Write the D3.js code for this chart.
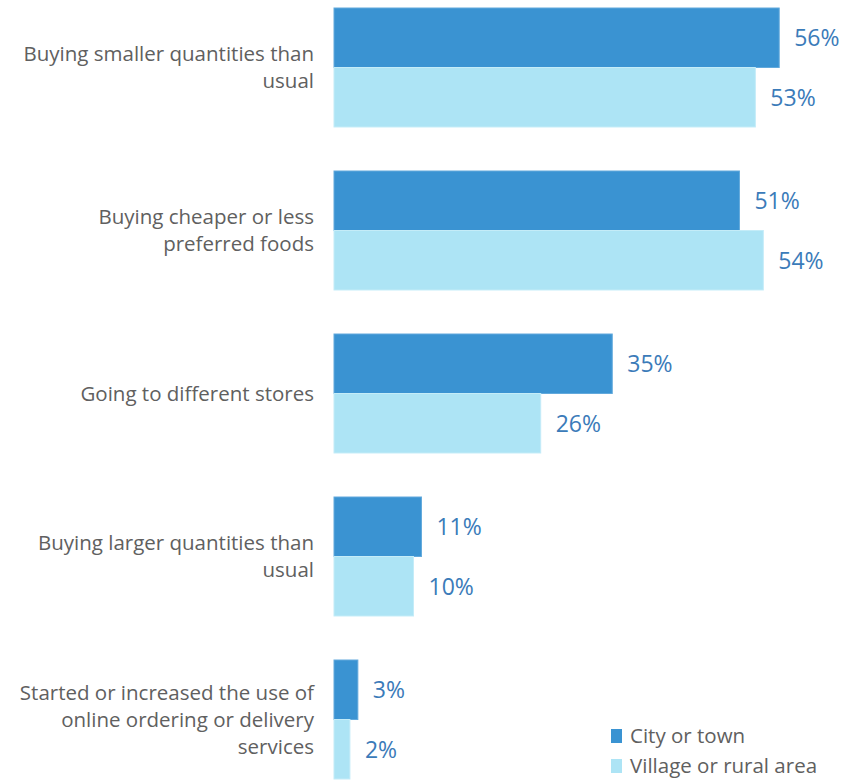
<!DOCTYPE html>
<html>
<head>
<meta charset="utf-8">
<script src="https://cdn.jsdelivr.net/npm/d3@7"></script>
<style>
  body { margin: 0; background: #ffffff; }
  svg { display: block; font-family: "Open Sans", Lato, sans-serif; }
</style>
</head>
<body>
<svg id="chart" width="860" height="780"></svg>
<script>
// Chart data
const categories = [
    ['Buying smaller quantities than', 'usual'],
    ['Buying cheaper or less', 'preferred foods'],
    ['Going to different stores'],
    ['Buying larger quantities than', 'usual'],
    ['Started or increased the use of', 'online ordering or delivery', 'services']
];
const seriesNames = ['City or town', 'Village or rural area'];
const cityValues = [56, 51, 35, 11, 3];
const villageValues = [53, 54, 26, 10, 2];

const colors = { 'City or town': '#3a93d2', 'Village or rural area': '#ade4f5' };
const borders = { 'City or town': '#62a9dc', 'Village or rural area': '#c4ecf8' };

const svg = d3.select('#chart');
const keys = categories.map((c, i) => i);

// Scales
const y = d3.scaleBand()
    .domain(keys)
    .range([8, 779])
    .paddingInner(0.27)
    .paddingOuter(0);

const ySub = d3.scaleBand()
    .domain(seriesNames)
    .range([0, y.bandwidth()]);

const x = d3.scaleLinear()
    .domain([0, 100])
    .range([334, 334 + 795]);

const rows = keys.map(i => ({
    i: i,
    label: categories[i],
    values: [
        { name: seriesNames[0], v: cityValues[i] },
        { name: seriesNames[1], v: villageValues[i] }
    ]
}));

const group = svg.append('g').attr('class', 'groups')
    .selectAll('g')
    .data(rows)
    .join('g')
    .attr('transform', d => `translate(0,${y(d.i)})`);

// Bars
group.selectAll('rect')
    .data(d => d.values)
    .join('rect')
    .attr('x', x(0))
    .attr('y', d => ySub(d.name))
    .attr('width', d => x(d.v) - x(0))
    .attr('height', ySub.bandwidth())
    .attr('fill', d => colors[d.name])
    .attr('stroke', d => borders[d.name])
    .attr('stroke-width', 1);

// Value labels
group.selectAll('text.value')
    .data(d => d.values)
    .join('text')
    .attr('class', 'value')
    .attr('x', d => x(d.v) + 15)
    .attr('y', d => ySub(d.name) + ySub.bandwidth() / 2)
    .attr('dy', '0.36em')
    .attr('font-size', '23px')
    .attr('fill', '#3b7bb9')
    .text(d => d.v + '%');

// Category labels
const lineH = 27;
group.append('text')
    .attr('class', 'cat')
    .attr('text-anchor', 'end')
    .attr('font-size', '20.5px')
    .attr('fill', '#606060')
    .each(function(d) {
        const t = d3.select(this);
        const n = d.label.length;
        d.label.forEach((line, k) => {
            t.append('tspan')
                .attr('x', 314)
                .attr('y', y.bandwidth() / 2 + (k - (n - 1) / 2) * lineH)
                .attr('dy', '0.36em')
                .text(line);
        });
    });

// Legend
const legend = svg.append('g').attr('class', 'legend')
    .selectAll('g')
    .data(seriesNames)
    .join('g')
    .attr('transform', (d, i) => `translate(611,${736 + i * 30})`);

legend.append('rect')
    .attr('x', 0)
    .attr('y', -7)
    .attr('width', 11)
    .attr('height', 14)
    .attr('fill', d => colors[d]);

legend.append('text')
    .attr('x', 19)
    .attr('y', 0)
    .attr('dy', '0.36em')
    .attr('font-size', '20.5px')
    .attr('fill', '#606060')
    .text(d => d);
</script>
</body>
</html>
